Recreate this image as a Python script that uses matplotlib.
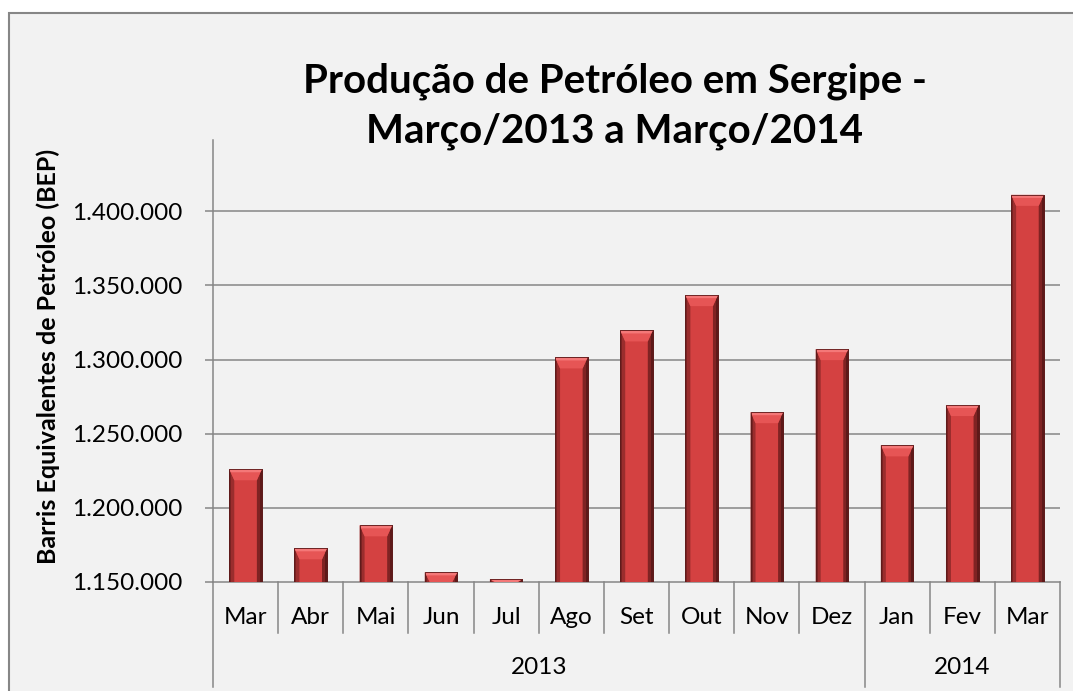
import matplotlib.pyplot as plt
from matplotlib.patches import Polygon, Rectangle
import matplotlib.ticker as mticker

plt.rcParams['font.family'] = ['Lato', 'DejaVu Sans']

# data
months = ['Mar', 'Abr', 'Mai', 'Jun', 'Jul', 'Ago', 'Set', 'Out', 'Nov', 'Dez', 'Jan', 'Fev', 'Mar']
years = ['2013', '2014']
months_per_year = [10, 3]
production = [1226000, 1172700, 1188200, 1156500, 1151800, 1301400, 1319600,
              1343400, 1264500, 1307000, 1242100, 1269300, 1411000]
y_ticks = [1150000, 1200000, 1250000, 1300000, 1350000, 1400000]

title_lines = ['Produção de Petróleo em Sergipe -', 'Março/2013 a Março/2014']
y_label = 'Barris Equivalentes de Petróleo (BEP)'

W, H = 1073, 691
GRAY = '#868686'

fig = plt.figure(figsize=(W / 100, H / 100), dpi=100, facecolor='white')

# chart area frame (cut at the right and bottom like the screenshot)
fig.patches.append(Rectangle((9 / W, -0.1), 1.2, 1 - 13 / H + 0.1, transform=fig.transFigure,
                             facecolor='#F2F2F2', edgecolor=GRAY, lw=1.5, zorder=-10))

ax_l, ax_r, ax_t, ax_b = 213, 1060, 140, 582
ax = fig.add_axes([ax_l / W, 1 - ax_b / H, (ax_r - ax_l) / W, (ax_b - ax_t) / H])
ax.set_facecolor('none')

x = list(range(len(months)))
ymin, ymax = 1150000, 1448000
ax.set_xlim(-0.5, len(months) - 0.5)
ax.set_ylim(ymin, ymax)

# grid, spines
for v in y_ticks[1:]:
    ax.axhline(v, color=GRAY, lw=1.1, zorder=1)
for s in ['top', 'right']:
    ax.spines[s].set_visible(False)
for s in ['left', 'bottom']:
    ax.spines[s].set_color(GRAY)
    ax.spines[s].set_linewidth(1.1)

ax.set_yticks(y_ticks)
ax.yaxis.set_major_formatter(mticker.FuncFormatter(lambda v, p: f'{int(v):,}'.replace(',', '.')))
ax.tick_params(axis='y', direction='out', length=6, width=1.1, color=GRAY, pad=16,
               labelsize=17.5, labelcolor='black')
ax.set_xticks([])

# bars with a bevel look
bars = ax.bar(x, production, width=0.5, color='#D44141', edgecolor='#5C1A1A', lw=0.6, zorder=3)

dx = (len(months)) / (ax_r - ax_l)
dy = (ymax - ymin) / (ax_b - ax_t)
for p in bars:
    x0 = p.get_x()
    x1 = x0 + p.get_width()
    top = p.get_height()
    y0 = ymin
    h = top - y0
    b = 5 * dx
    t = min(11 * dy, h)
    t2 = min(3 * dy, h)
    # left and right sides
    ax.add_patch(Polygon([(x0, y0), (x0 + b, y0), (x0 + b, top - t), (x0, top)],
                         closed=True, facecolor='#9A2D2D', edgecolor='none', zorder=4))
    ax.add_patch(Polygon([(x0, y0), (x0 + 2 * dx, y0), (x0 + 2 * dx, top), (x0, top)],
                         closed=True, facecolor='#7A2222', edgecolor='none', zorder=4))
    ax.add_patch(Polygon([(x1, y0), (x1 - b, y0), (x1 - b, top - t), (x1, top)],
                         closed=True, facecolor='#7F2323', edgecolor='none', zorder=4))
    ax.add_patch(Polygon([(x1, y0), (x1 - 2 * dx, y0), (x1 - 2 * dx, top), (x1, top)],
                         closed=True, facecolor='#5E1919', edgecolor='none', zorder=4))
    # top bevel
    ax.add_patch(Polygon([(x0, top), (x1, top), (x1 - b, top - t), (x0 + b, top - t)],
                         closed=True, facecolor='#E65555', edgecolor='none', zorder=5))
    ax.add_patch(Polygon([(x0, top), (x1, top), (x1 - b * t2 / t, top - t2), (x0 + b * t2 / t, top - t2)],
                         closed=True, facecolor='#F47878', edgecolor='none', zorder=5))
    ax.add_patch(Rectangle((x0, y0), x1 - x0, h, facecolor='none', edgecolor='#5C1A1A',
                           lw=0.6, zorder=6))

# category axis: month and year rows with dividers
trans = ax.get_xaxis_transform()
inner = -(633 - ax_b) / (ax_b - ax_t)
outer = -(687 - ax_b) / (ax_b - ax_t)
year_edges = [0]
for n in months_per_year:
    year_edges.append(year_edges[-1] + n)
for k in range(len(months) + 1):
    y_end = outer if k in year_edges else inner
    ax.plot([k - 0.5, k - 0.5], [0, y_end], color=GRAY, lw=1.1, transform=trans, clip_on=False)
for i, m in enumerate(months):
    ax.text(i, -(617 - ax_b) / (ax_b - ax_t), m, ha='center', va='center', fontsize=17.5,
            transform=trans)
for j, yr in enumerate(years):
    c = (year_edges[j] + year_edges[j + 1] - 1) / 2
    ax.text(c, -(667 - ax_b) / (ax_b - ax_t), yr, ha='center', va='center', fontsize=17.5,
            transform=trans)

for line, base in zip(title_lines, [92, 142]):
    fig.text(615 / W, 1 - base / H, line, ha='center', va='baseline', fontsize=29,
             fontweight='bold')
fig.text(48 / W, 1 - 356 / H, y_label, ha='center', va='center', rotation=90,
         fontsize=18, fontweight='bold')

fig.savefig('out.png', dpi=100, facecolor='white')
